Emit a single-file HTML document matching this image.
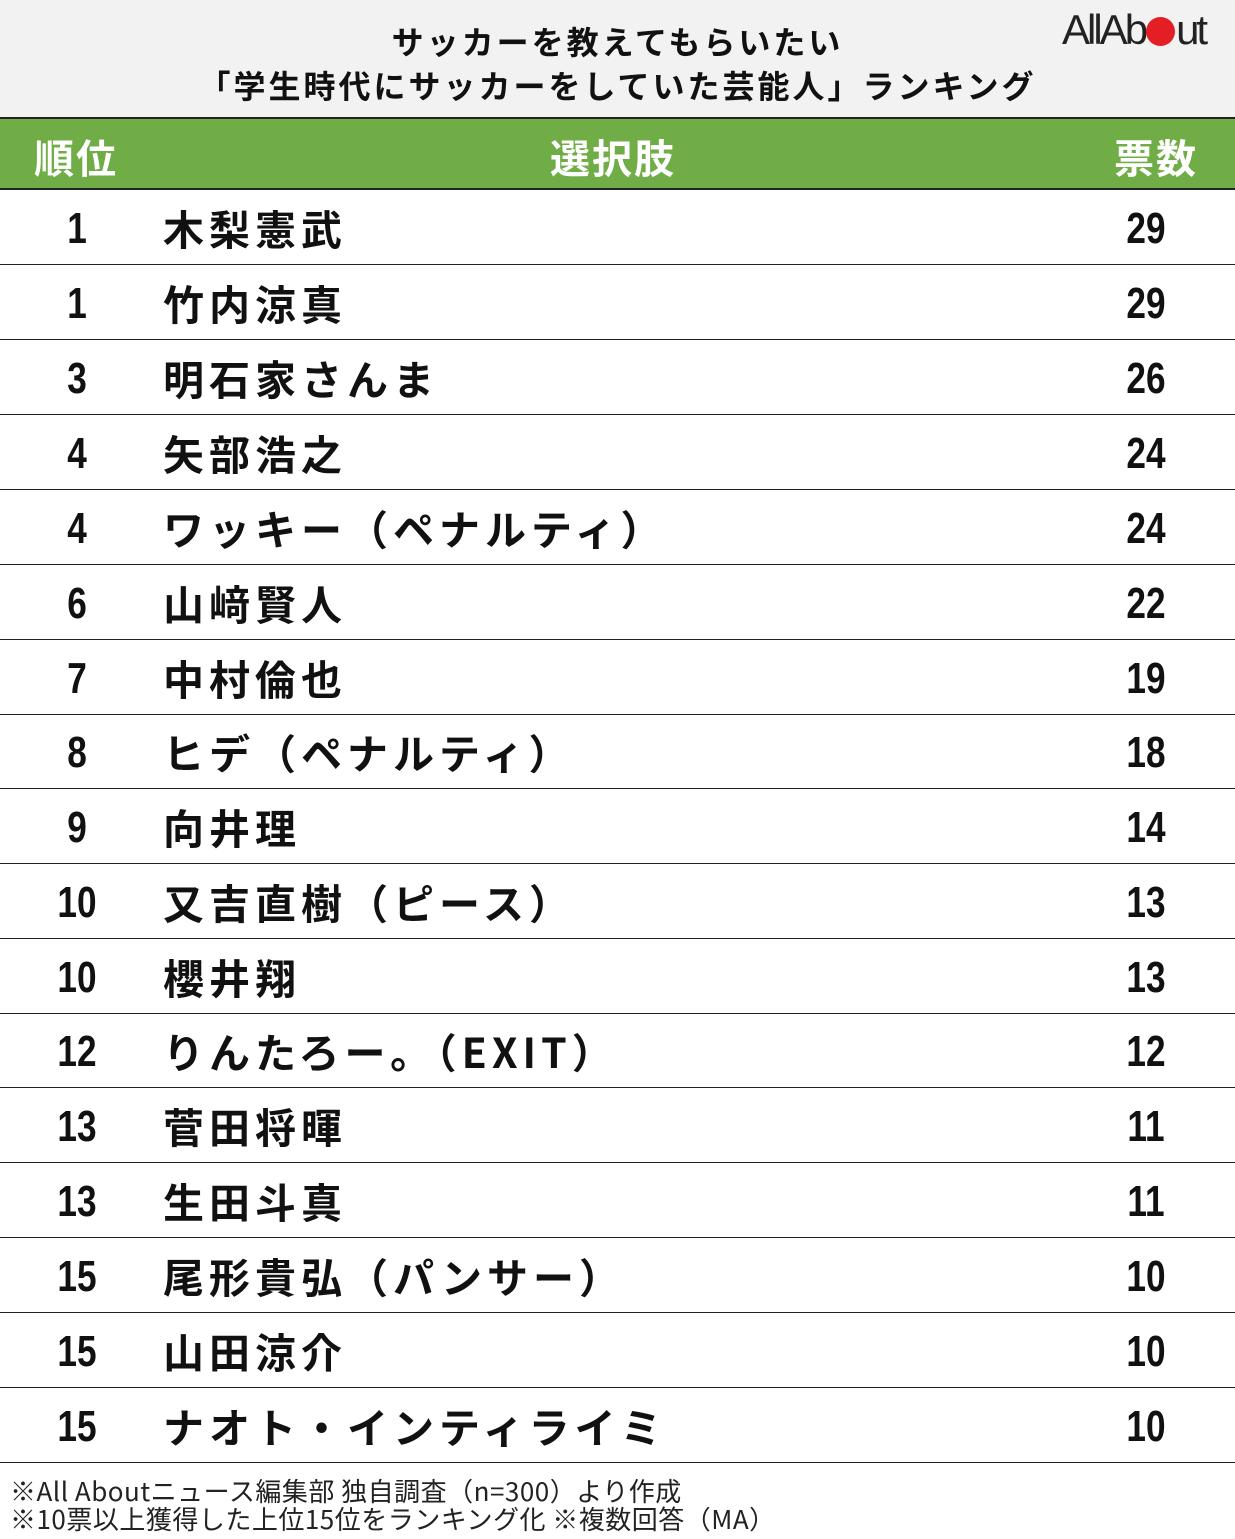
<!DOCTYPE html>
<html><head><meta charset="utf-8"><style>
body{margin:0;width:1235px;height:1539px;background:#fff;position:relative;overflow:hidden;font-family:"Liberation Sans","Noto Sans CJK JP",sans-serif}
.top{position:absolute;left:0;top:0;width:1235px;height:117px;background:#f2f2f2}
.t{position:absolute;left:0;width:1235px;text-align:center;font-weight:bold;font-size:32px;color:#111;font-family:"Noto Sans CJK JP",sans-serif;letter-spacing:3px}
.logo{position:absolute;left:1062px;top:6px;font-size:42px;letter-spacing:-3px;color:#222;font-family:"Liberation Sans",sans-serif}
.dot{display:inline-block;width:29px;height:29px;border-radius:50%;background:#e31e24;vertical-align:-2px;margin:0 1px}
.hd{position:absolute;left:0;top:117px;width:1235px;height:73px;background:#70ad47;border-top:2px solid #222;border-bottom:2px solid #222;box-sizing:border-box;color:#fff;font-weight:bold;font-size:40px;font-family:"Noto Sans CJK JP",sans-serif}
.hd span{position:absolute;top:8px;letter-spacing:2px}
.row{position:absolute;left:0;width:1235px;height:75px;border-bottom:1.5px solid #222;box-sizing:border-box}
.rk,.vt{position:absolute;top:14px;font-size:44px;font-weight:bold;font-family:"Liberation Sans",sans-serif;transform:scaleX(0.8);width:100px;text-align:center;color:#111}
.rk{left:27px}.vt{left:1096px}
.nm{position:absolute;left:163px;top:7px;font-size:41px;font-weight:bold;font-family:"Noto Sans CJK JP",sans-serif;color:#111;letter-spacing:5px}
.ft{position:absolute;left:10px;font-size:26px;font-family:"Noto Sans CJK JP",sans-serif;color:#222;line-height:28px;letter-spacing:0.5px}
</style></head><body>
<div class="top"></div>
<div class="t" style="top:18px">サッカーを教えてもらいたい</div>
<div class="t" style="top:62px">「学生時代にサッカーをしていた芸能人」ランキング</div>
<div class="logo">AllAb<span class="dot"></span>ut</div>
<div class="hd"><span style="left:34px">順位</span><span style="left:550px">選択肢</span><span style="left:1114px">票数</span></div>
<div class="row" style="top:190px"><div class="rk">1</div><div class="nm">木梨憲武</div><div class="vt">29</div></div>
<div class="row" style="top:265px"><div class="rk">1</div><div class="nm">竹内涼真</div><div class="vt">29</div></div>
<div class="row" style="top:340px"><div class="rk">3</div><div class="nm">明石家さんま</div><div class="vt">26</div></div>
<div class="row" style="top:415px"><div class="rk">4</div><div class="nm">矢部浩之</div><div class="vt">24</div></div>
<div class="row" style="top:490px"><div class="rk">4</div><div class="nm">ワッキー（ペナルティ）</div><div class="vt">24</div></div>
<div class="row" style="top:565px"><div class="rk">6</div><div class="nm">山﨑賢人</div><div class="vt">22</div></div>
<div class="row" style="top:640px"><div class="rk">7</div><div class="nm">中村倫也</div><div class="vt">19</div></div>
<div class="row" style="top:714px"><div class="rk">8</div><div class="nm">ヒデ（ペナルティ）</div><div class="vt">18</div></div>
<div class="row" style="top:789px"><div class="rk">9</div><div class="nm">向井理</div><div class="vt">14</div></div>
<div class="row" style="top:864px"><div class="rk">10</div><div class="nm">又吉直樹（ピース）</div><div class="vt">13</div></div>
<div class="row" style="top:939px"><div class="rk">10</div><div class="nm">櫻井翔</div><div class="vt">13</div></div>
<div class="row" style="top:1013px"><div class="rk">12</div><div class="nm">りんたろー。（EXIT）</div><div class="vt">12</div></div>
<div class="row" style="top:1088px"><div class="rk">13</div><div class="nm">菅田将暉</div><div class="vt">11</div></div>
<div class="row" style="top:1163px"><div class="rk">13</div><div class="nm">生田斗真</div><div class="vt">11</div></div>
<div class="row" style="top:1238px"><div class="rk">15</div><div class="nm">尾形貴弘（パンサー）</div><div class="vt">10</div></div>
<div class="row" style="top:1313px"><div class="rk">15</div><div class="nm">山田涼介</div><div class="vt">10</div></div>
<div class="row" style="top:1388px"><div class="rk">15</div><div class="nm">ナオト・インティライミ</div><div class="vt">10</div></div>
<div class="ft" style="top:1477px">※All Aboutニュース編集部 独自調査（n=300）より作成</div>
<div class="ft" style="top:1505px">※10票以上獲得した上位15位をランキング化 ※複数回答（MA）</div>
</body></html>
